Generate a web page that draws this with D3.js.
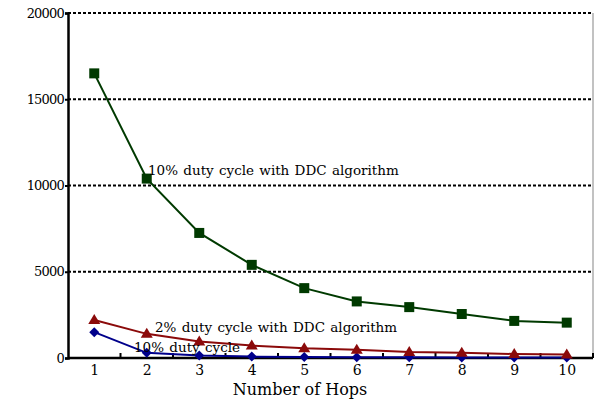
<!DOCTYPE html>
<html><head><meta charset="utf-8">
<script src="https://cdn.jsdelivr.net/npm/d3@7"></script>
<style>body{margin:0;background:#fff}svg{display:block}</style>
</head><body><svg id="c" width="599" height="400"></svg>
<script>
const hops = [1,2,3,4,5,6,7,8,9,10];
const ddc10 = [16500,10400,7250,5400,4050,3280,2950,2550,2150,2050];
const ddc2 = [2200,1400,950,720,560,480,350,310,230,210];
const duty10 = [1500,300,150,80,60,50,40,35,30,30];
const yTicks = [0,5000,10000,15000,20000];
const xTicks = [1,2,3,4,5,6,7,8,9,10];

const FONT = "'DejaVu Serif', serif";
const svg = d3.select("#c");
const L=68,R=593,T=13,B=358;
const x = d3.scaleLinear().domain([0.5,10.5]).range([L,R]);
const y = d3.scaleLinear().domain([0,20000]).range([B,T]);

svg.append("g").selectAll("line").data(yTicks.filter(d=>d>0)).join("line")
  .attr("x1",L).attr("x2",R).attr("y1",d=>y(d)).attr("y2",d=>y(d))
  .attr("stroke","#000").attr("stroke-width",2).attr("stroke-dasharray","3,2");
svg.append("line").attr("x1",R).attr("x2",R).attr("y1",T).attr("y2",B).attr("stroke","#999").attr("stroke-width",1.2);

const ya = svg.append("g").attr("transform",`translate(${L},0)`)
  .call(d3.axisLeft(y).tickValues(yTicks).tickSize(3).tickPadding(1).tickFormat(d3.format("d")));
ya.attr("font-family",FONT);
ya.select(".domain").attr("stroke-width",2.5);
ya.selectAll(".tick line").attr("stroke-width",2);
ya.selectAll("text").style("font-family",FONT).attr("font-size",13).attr("letter-spacing","-0.8");

const xa = svg.append("g").attr("transform",`translate(0,${B})`)
  .call(d3.axisBottom(x).tickValues(xTicks).tickSize(0).tickPadding(7).tickFormat(d3.format("d")));
xa.attr("font-family",FONT);
xa.select(".domain").attr("stroke-width",2.5).attr("d",`M${L},0H${R}`);
xa.selectAll("text").style("font-family",FONT).attr("font-size",14);
svg.append("g").selectAll("line").data(d3.range(1.5,10.6,1)).join("line")
  .attr("x1",d=>x(d)).attr("x2",d=>x(d)).attr("y1",B).attr("y2",B-5)
  .attr("stroke","#000").attr("stroke-width",2);

const line = d3.line().x((d,i)=>x(hops[i])).y(d=>y(d));
const series = [
  {v:ddc10,c:"#003a00",m:"square"},
  {v:ddc2,c:"#8b0a0a",m:"tri"},
  {v:duty10,c:"#00008b",m:"diamond"}
];
series.slice().reverse().forEach(s=>{
  svg.append("path").attr("d",line(s.v)).attr("fill","none").attr("stroke",s.c).attr("stroke-width",2);
  const g = svg.append("g");
  s.v.forEach((d,i)=>{
    const cx=x(hops[i]), cy=y(d);
    if(s.m==="square") g.append("rect").attr("x",cx-5).attr("y",cy-5).attr("width",10).attr("height",10).attr("fill",s.c);
    else if(s.m==="tri") g.append("path").attr("d",`M${cx},${cy-6}L${cx+6},${cy+4}L${cx-6},${cy+4}Z`).attr("fill",s.c);
    else g.append("path").attr("d",`M${cx},${cy-5}L${cx+5},${cy}L${cx},${cy+5}L${cx-5},${cy}Z`).attr("fill",s.c);
  });
});

const ann = [
  {t:"10% duty cycle with DDC algorithm",x:148,y:175},
  {t:"2% duty cycle with DDC algorithm",x:155,y:332},
  {t:"10% duty cycle",x:134,y:352}
];
svg.append("g").selectAll("text").data(ann).join("text")
  .style("font-family",FONT)
  .attr("x",d=>d.x).attr("y",d=>d.y).attr("font-size",13.5).attr("fill","#000").attr("word-spacing","1").text(d=>d.t);

svg.append("text").style("font-family",FONT).attr("x",300).attr("y",395).attr("text-anchor","middle").attr("font-size",16).text("Number of Hops");
</script></body></html>
